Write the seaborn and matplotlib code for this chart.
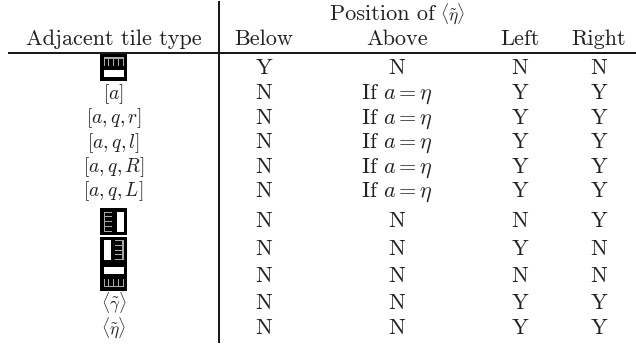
import matplotlib
matplotlib.use('Agg')
import matplotlib.pyplot as plt
from matplotlib.patches import Rectangle
import pandas as pd
import seaborn as sns

sns.set_theme(style='white')
plt.rcParams['font.family'] = ['cmr10', 'DejaVu Sans']
plt.rcParams['mathtext.fontset'] = 'cm'
plt.rcParams['axes.formatter.use_mathtext'] = True

# table contents
row_labels = ['tile:top', r'$[a]$', r'$[a,q,r]$', r'$[a,q,l]$', r'$[a,q,R]$', r'$[a,q,L]$',
              'tile:left', 'tile:right', 'tile:bottom',
              r'$\langle\tilde{\gamma}\rangle$', r'$\langle\tilde{\eta}\rangle$']
cond = r'If $a=\eta$'
below = ['Y', 'N', 'N', 'N', 'N', 'N', 'N', 'N', 'N', 'N', 'N']
above = ['N', cond, cond, cond, cond, cond, 'N', 'N', 'N', 'N', 'N']
left = ['N', 'Y', 'Y', 'Y', 'Y', 'Y', 'N', 'Y', 'N', 'Y', 'Y']
right = ['N', 'Y', 'Y', 'Y', 'Y', 'Y', 'Y', 'N', 'N', 'Y', 'Y']
columns = ['Adjacent tile type', 'Below', 'Above', 'Left', 'Right']

# layout, in pixels of the 636x347 page
col_x = [113.5, 264, 397, 520, 599]
row_base = [74, 99, 123.5, 148, 172.5, 196.5, 227, 254.5, 282, 309, 333.5]
tile_y = {0: 67, 6: 221.5, 7: 250, 8: 277}
FS = 16
MATH_FS = 14
ANGLE_FS = 12.5
INK = '#222222'

table = pd.DataFrame(dict(zip(columns, [row_labels, below, above, left, right])))


def draw_tile(ax, cx, cy, side):
    # black square, white bar and grey comb on the given side
    s = 13.5
    ax.add_patch(Rectangle((cx - s, cy - s), 2 * s, 2 * s, color='black', lw=0))
    # u runs along the comb, v runs from the comb side to the far side
    def box(u0, u1, v0, v1, color):
        if side == 'top':
            xy = (cx + u0, cy + v0, u1 - u0, v1 - v0)
        elif side == 'bottom':
            xy = (cx + u0, cy - v1, u1 - u0, v1 - v0)
        elif side == 'left':
            xy = (cx + v0, cy + u0, v1 - v0, u1 - u0)
        else:
            xy = (cx - v1, cy + u0, v1 - v0, u1 - u0)
        ax.add_patch(Rectangle(xy[:2], xy[2], xy[3], color=color, lw=0))

    box(-10, 10, 3, 10, 'white')
    box(-10, 10, -10, -8.5, '#a8a8a8')
    for u in (-10, -5.25, -0.5, 4.25, 9):
        box(u, u + 1, -10, -1.5, '#a8a8a8')


fig, ax = plt.subplots(figsize=(6.36, 3.47), dpi=100)
fig.subplots_adjust(0, 0, 1, 1)

# rules
rules = pd.DataFrame({'x': [8, 636, 219, 219], 'y': [52.5, 52.5, 1, 343], 'rule': ['h', 'h', 'v', 'v']})
sns.lineplot(data=rules, x='x', y='y', units='rule', estimator=None, sort=False,
             color='#1a1a1a', lw=1.45, ax=ax, solid_capstyle='butt')
ax.set_xlim(0, 636)
ax.set_ylim(347, 0)
ax.axis('off')

# headers
ax.text(435, 20, 'Position of', ha='right', va='baseline', fontsize=FS, color=INK)
ax.text(440, 19.5, r'$\langle\tilde{\eta}\rangle$', ha='left', va='baseline', fontsize=ANGLE_FS, color=INK)
for x, name in zip(col_x, columns):
    ax.text(x, 45, name, ha='center', va='baseline', fontsize=FS, color=INK)

# body
for i, (y, (_, row)) in enumerate(zip(row_base, table.iterrows())):
    for x, name in zip(col_x, columns):
        val = row[name]
        if val.startswith('tile:'):
            draw_tile(ax, x, tile_y[i], val.split(':')[1])
        elif name == columns[0]:
            size = ANGLE_FS if 'langle' in val else MATH_FS
            ax.text(x, y, val, ha='center', va='baseline', fontsize=size, color=INK)
        else:
            ax.text(x, y, val, ha='center', va='baseline', fontsize=FS, color=INK)

fig.savefig('out.png', dpi=100)
